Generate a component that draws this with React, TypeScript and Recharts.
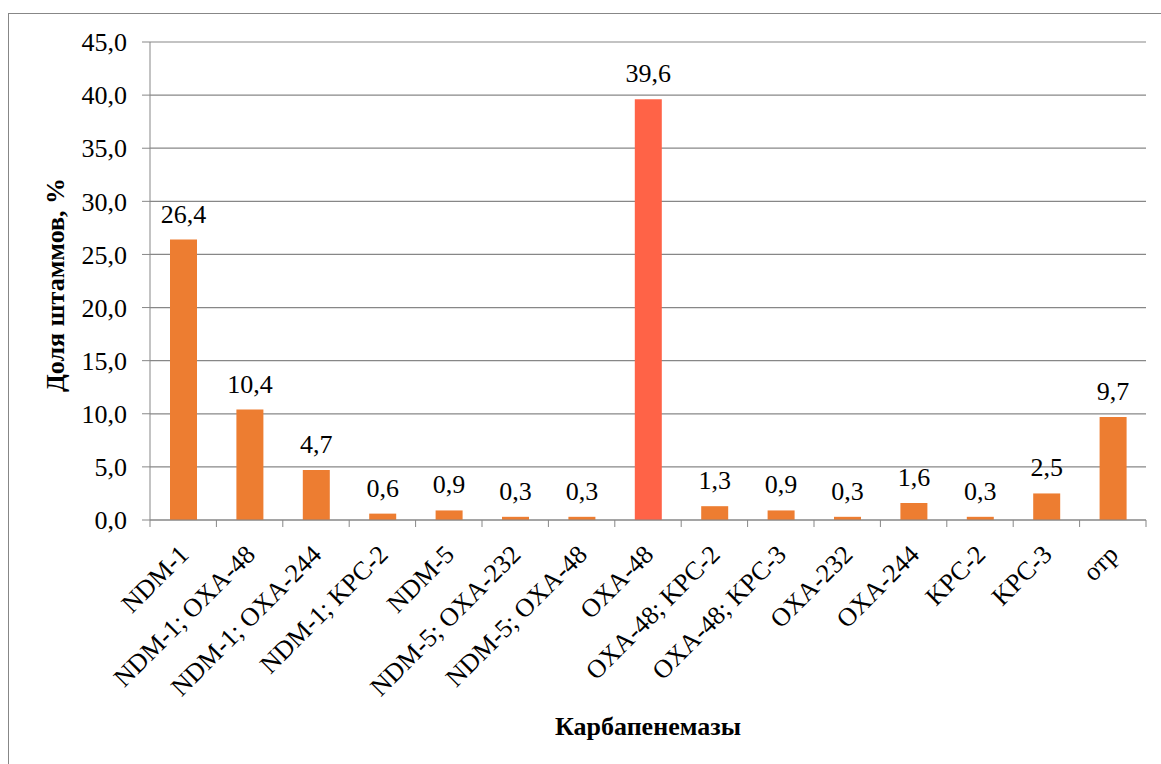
import React from "react";
import { BarChart, Bar, XAxis, YAxis, CartesianGrid, Cell, LabelList, Label } from "recharts";

const CATEGORIES = [
  "NDM-1",
  "NDM-1; OXA-48",
  "NDM-1; OXA-244",
  "NDM-1; KPC-2",
  "NDM-5",
  "NDM-5; OXA-232",
  "NDM-5; OXA-48",
  "OXA-48",
  "OXA-48; KPC-2",
  "OXA-48; KPC-3",
  "OXA-232",
  "OXA-244",
  "KPC-2",
  "KPC-3",
  "отр",
];
const SHARES = [26.4, 10.4, 4.7, 0.6, 0.9, 0.3, 0.3, 39.6, 1.3, 0.9, 0.3, 1.6, 0.3, 2.5, 9.7];
const Y_TICKS = [0, 5, 10, 15, 20, 25, 30, 35, 40, 45];
const HIGHLIGHT = "OXA-48";

const FONT = "Liberation Serif, Times New Roman, serif";
const AXIS = "#878787";
const BAR = "#ED7D31";
const BAR_HI = "#FF6347";

const data = CATEGORIES.map((name, i) => ({ name, share: SHARES[i] }));

const fmt = (v: any) => Number(v).toFixed(1).replace(".", ",");

function CategoryTick(props: any) {
  const { x, y, payload, index } = props;
  const half = payload && payload.offset ? payload.offset : 33.2;
  const tx = x + 7;
  const ty = y + 36;
  return (
    <g>
      <line x1={x - half} x2={x - half} y1={y} y2={y + 7} stroke={AXIS} />
      {index === CATEGORIES.length - 1 && (
        <line x1={x + half} x2={x + half} y1={y} y2={y + 7} stroke={AXIS} />
      )}
      <text
        x={tx}
        y={ty}
        textAnchor="end"
        transform={`rotate(-45 ${tx} ${ty})`}
        fontSize={26}
        fontFamily={FONT}
        fill="#000"
      >
        {payload.value}
      </text>
    </g>
  );
}

export default function App() {
  return (
    <div style={{ position: "fixed", left: 0, top: 0, width: 1161, height: 764, overflow: "hidden", background: "#fff" }}>
      <div
        style={{
          position: "absolute",
          left: 8,
          top: 13,
          width: 1200,
          height: 800,
          border: `1px solid ${AXIS}`,
          boxSizing: "border-box",
        }}
      />
      <div style={{ position: "absolute", left: 0, top: 0 }}>
        <BarChart width={1161} height={764} data={data} margin={{ top: 42, right: 15, bottom: 0, left: 0 }}>
          <CartesianGrid horizontal vertical={false} stroke={AXIS} strokeWidth={1.2} />
          <YAxis
            width={150}
            domain={[0, 45]}
            ticks={Y_TICKS}
            interval={0}
            tickFormatter={fmt}
            tickSize={8}
            tickMargin={15}
            stroke={AXIS}
            tick={{ fontSize: 26, fill: "#000", fontFamily: FONT }}
          >
            <Label
              content={({ viewBox }: any) => {
                const cx = 64;
                const cy = viewBox.y + viewBox.height / 2 + 4;
                return (
                  <text
                    x={cx}
                    y={cy}
                    textAnchor="middle"
                    transform={`rotate(-90 ${cx} ${cy})`}
                    fontSize={26}
                    fontWeight="bold"
                    fontFamily={FONT}
                    fill="#000"
                  >
                    Доля штаммов, %
                  </text>
                );
              }}
            />
          </YAxis>
          <XAxis
            dataKey="name"
            height={244}
            interval={0}
            tickSize={0}
            tickMargin={0}
            tickLine={false}
            stroke={AXIS}
            tick={<CategoryTick />}
          >
            <Label
              content={({ viewBox }: any) => (
                <text
                  x={viewBox.x + viewBox.width / 2}
                  y={viewBox.y + 215}
                  textAnchor="middle"
                  fontSize={26}
                  fontWeight="bold"
                  fontFamily={FONT}
                  fill="#000"
                >
                  Карбапенемазы
                </text>
              )}
            />
          </XAxis>
          <Bar dataKey="share" barSize={27} isAnimationActive={false}>
            {data.map((d) => (
              <Cell key={d.name} fill={d.name === HIGHLIGHT ? BAR_HI : BAR} />
            ))}
            <LabelList
              dataKey="share"
              position="top"
              offset={17}
              formatter={fmt}
              fill="#000"
              fontSize={26}
              fontFamily={FONT}
            />
          </Bar>
        </BarChart>
      </div>
    </div>
  );
}
